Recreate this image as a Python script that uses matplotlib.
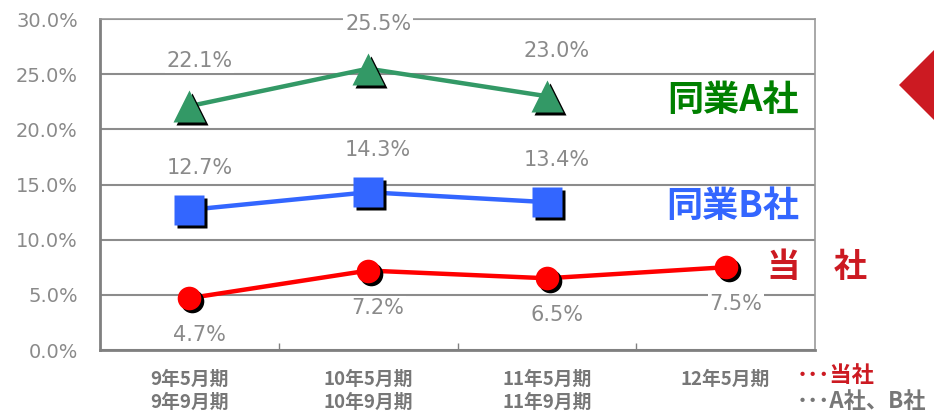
import matplotlib.pyplot as plt
import matplotlib.transforms as mtransforms
from matplotlib.patches import Polygon

plt.rcParams['font.family'] = ['DejaVu Sans', 'Noto Sans CJK JP']

# データ
periods = ['9年5月期\n9年9月期', '10年5月期\n10年9月期', '11年5月期\n11年9月期', '12年5月期']
rate_a = [22.1, 25.5, 23.0]
rate_b = [12.7, 14.3, 13.4]
rate_own = [4.7, 7.2, 6.5, 7.5]

green = '#339966'
blue = '#3366ff'
red = '#ff0000'
dark_red = '#cc1a22'
gray = '#808080'

fig = plt.figure(figsize=(9.34, 4.12), dpi=100)
ax = fig.add_axes([100 / 934, 62 / 412, 715 / 934, 331 / 412])

# 影用のオフセット
shadow = mtransforms.offset_copy(ax.transData, fig=fig, x=3, y=-3, units='dots')


def draw_series(vals, color, marker, ms, dy):
    x = list(range(len(vals)))
    ax.plot(x, vals, color=color, lw=3.2, zorder=3, solid_capstyle='round')
    ax.plot(x, vals, ls='none', marker=marker, ms=ms, color='black',
            mec='none', transform=shadow, zorder=4)
    ax.plot(x, vals, ls='none', marker=marker, ms=ms, color=color,
            mec='none', zorder=5)
    for xi, v in zip(x, vals):
        ax.annotate('%.1f%%' % v, (xi, v), xytext=(10, dy), textcoords='offset pixels',
                    ha='center', va='center', fontsize=15, color='#8a8a8a',
                    bbox=dict(boxstyle='square,pad=0.08', fc='white', ec='none'),
                    zorder=2.8, annotation_clip=False)


draw_series(rate_a, green, '^', 23, 45)
draw_series(rate_b, blue, 's', 21, 42)
draw_series(rate_own, red, 'o', 17, -37)

ax.set_xlim(-0.5, 3.5)
ax.set_ylim(0, 30)
ax.set_yticks(range(0, 31, 5))
ax.set_yticklabels(['%.1f%%' % v for v in range(0, 31, 5)])
ax.set_xticks(range(len(periods)))
ax.set_xticklabels(periods, fontsize=13.5, fontweight='bold', color='#777777',
                   family=['Noto Sans CJK JP'], linespacing=1.32)
ax.set_xticks([0.5, 1.5, 2.5], minor=True)
ax.tick_params(axis='x', which='major', length=0, pad=14)
ax.tick_params(axis='x', which='minor', direction='in', length=5, width=1, color=gray)
ax.tick_params(axis='y', length=0, pad=16, labelsize=14, labelcolor='#8a8a8a')
ax.grid(axis='y', color='#8c8c8c', lw=1.5, zorder=0)
ax.set_axisbelow(True)
for s in ['left', 'bottom']:
    ax.spines[s].set_color(gray)
    ax.spines[s].set_linewidth(2)
for s in ['top', 'right']:
    ax.spines[s].set_color('#999999')
    ax.spines[s].set_linewidth(1.2)

cjk = ['Noto Sans CJK JP']
ax.text(3.04, 22.6, '同業A社', color='#008000', fontsize=26, fontweight='bold',
        ha='center', va='center', family=cjk)
ax.text(3.04, 13.0, '同業B社', color=blue, fontsize=26, fontweight='bold',
        ha='center', va='center', family=cjk)
ax.text(3.51, 7.5, '当　社', color=dark_red, fontsize=24, fontweight='bold',
        ha='center', va='center', family=cjk, clip_on=False)

# 凡例テキスト
fig.text(797 / 934, 1 - 375 / 412, '･･･当社', color=dark_red, fontsize=16,
         fontweight='bold', va='center', family=cjk + ['DejaVu Sans'])
fig.text(797 / 934, 1 - 401 / 412, '･･･A社、B社', color='#777777', fontsize=16,
         fontweight='bold', va='center', family=cjk + ['DejaVu Sans'])

# 右端の赤いひし形
diamond = Polygon([(899 / 934, 1 - 85 / 412), (945 / 934, 1 - 39 / 412),
                   (991 / 934, 1 - 85 / 412), (945 / 934, 1 - 131 / 412)],
                  closed=True, transform=fig.transFigure, fc=dark_red, ec='none')
fig.patches.append(diamond)

fig.savefig('out.png', dpi=100)
